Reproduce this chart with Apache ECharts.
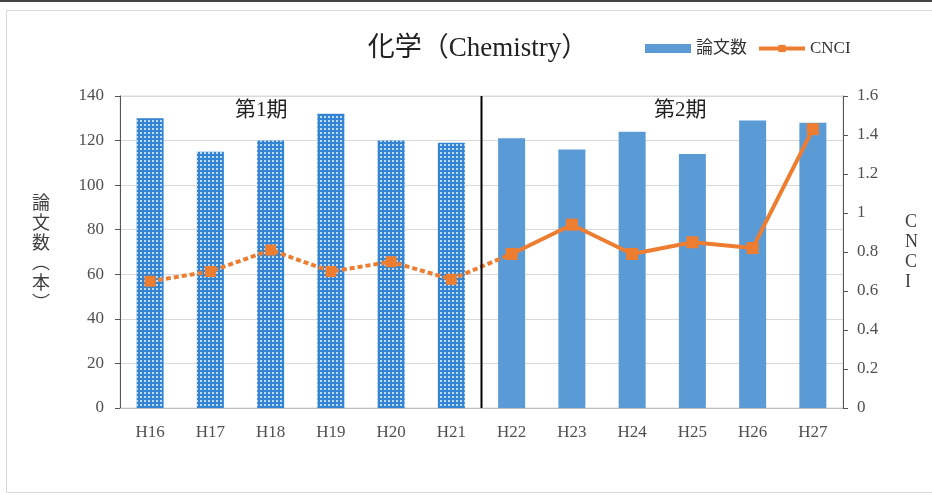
<!DOCTYPE html>
<html><head><meta charset="utf-8">
<script src="https://cdn.jsdelivr.net/npm/echarts@6/dist/echarts.min.js"></script>
<style>html,body{margin:0;padding:0;background:#fff}#c{width:932px;height:495px}</style>
</head><body><div id="c"></div>
<script>
const categories = ['H16','H17','H18','H19','H20','H21','H22','H23','H24','H25','H26','H27'];
const papers = [130,115,120,132,120,119,121,116,124,114,129,128];
const cnci = [0.65,0.70,0.81,0.70,0.75,0.66,0.79,0.94,0.79,0.85,0.82,1.43];
const period1Count = 6;
const leftTicks = {min:0,max:140,interval:20};
const rightTicks = {min:0,max:1.6,interval:0.2};

const serif = '"Liberation Serif","DejaVu Serif","Noto Sans CJK JP",serif';
const blue = '#5B9BD5', blueDark = '#3385D3', orange = '#ED7D31';

const barData = papers.map((v,i)=> i < period1Count ? {
  value: v,
  itemStyle: { color: blueDark, decal: { symbol:'rect', symbolSize:1, dashArrayX:[[2,2]], dashArrayY:[2,2], color:'rgba(255,255,255,0.7)', rotation:0 } }
} : { value: v, itemStyle: { color: blue } });

const dashedLine = cnci.map((v,i)=> i <= period1Count ? v : '-');
const solidLine = cnci.map((v,i)=> i >= period1Count ? v : '-');

const chart = echarts.init(document.getElementById('c'));
chart.setOption({
  animation:false,
  backgroundColor:'#fff',
  title:{ text:'化学（Chemistry）', left:473, top:30, textAlign:'center',
    textStyle:{ fontFamily:serif, fontSize:27, fontWeight:'normal', color:'#222' } },
  legend:{ left:640, top:35, itemGap:10, itemWidth:46, itemHeight:9,
    textStyle:{ fontFamily:serif, fontSize:17, color:'#333' },
    data:[{name:'論文数', icon:'rect'}, {name:'CNCI', lineStyle:{width:4}}] },
  grid:{ left:120, right:89, top:96, bottom:87, show:true, borderColor:'#d9d9d9', borderWidth:1 },
  xAxis:[{ type:'category', data:categories,
    axisTick:{show:false}, axisLine:{lineStyle:{color:'#bfbfbf'}},
    axisLabel:{ fontFamily:serif, fontSize:17, color:'#505050', margin:16 } },
    { type:'value', min:0, max:categories.length, show:false }],
  yAxis:[{ type:'value', min:leftTicks.min, max:leftTicks.max, interval:leftTicks.interval,
      name:'論\n文\n数\n︵\n本\n︶', nameLocation:'middle', nameRotate:0, nameGap:70,
      nameTextStyle:{ fontFamily:'"Noto Sans CJK JP",serif', fontSize:18, color:'#404040', lineHeight:20 },
      axisLabel:{ fontFamily:serif, fontSize:17, color:'#505050', margin:16 },
      splitLine:{ lineStyle:{ color:'#d9d9d9' } } },
    { type:'value', min:rightTicks.min, max:rightTicks.max, interval:rightTicks.interval,
      name:'C\nN\nC\nI', nameLocation:'middle', nameRotate:0, nameGap:62,
      nameTextStyle:{ fontFamily:serif, fontSize:18, color:'#404040', lineHeight:20 },
      axisLabel:{ fontFamily:serif, fontSize:17, color:'#505050', margin:14 },
      splitLine:{show:false} }],
  series:[
    { name:'論文数', type:'bar', data:barData, barWidth:27, itemStyle:{color:blue} },
    { name:'CNCI', type:'line', yAxisIndex:1, data:solidLine, symbol:'rect', symbolSize:12,
      lineStyle:{ color:orange, width:4 }, itemStyle:{ color:orange }, z:3 },
    { name:'CNCI', type:'line', yAxisIndex:1, data:dashedLine, symbol:'rect', symbolSize:11,
      lineStyle:{ color:orange, width:4, type:[5,3] }, itemStyle:{ color:orange } },
    { type:'line', xAxisIndex:1, data:[[period1Count,0],[period1Count,140]], symbol:'none',
      lineStyle:{ color:'#000', width:2 }, silent:true, z:4 }
  ],
  graphic:[
    { type:'text', left:235, top:100, style:{ text:'第1期', font:'21px '+serif, fill:'#222' } },
    { type:'text', left:654, top:100, style:{ text:'第2期', font:'21px '+serif, fill:'#222' } },
    { type:'rect', shape:{x:6.5,y:10.5,width:940,height:482}, style:{fill:'none', stroke:'#d9d9d9', lineWidth:1}, silent:true },
    { type:'rect', shape:{x:0,y:0,width:932,height:2}, style:{fill:'#444'}, silent:true }
  ]
});
</script></body></html>
